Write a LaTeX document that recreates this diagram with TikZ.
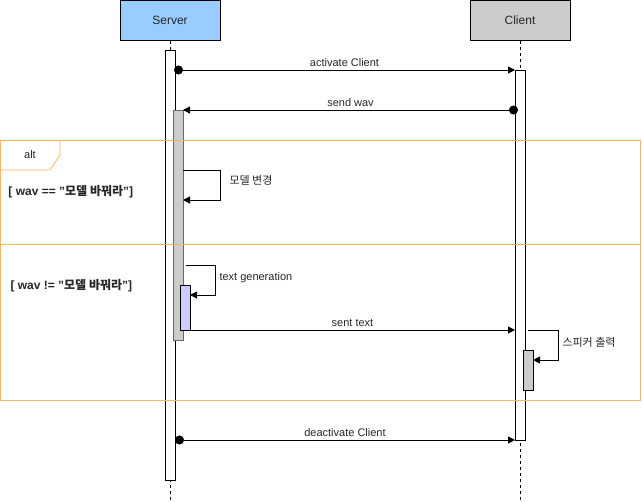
\documentclass[tikz,border=0pt]{standalone}
\usepackage{fontspec}
\setmainfont{Liberation Sans}
\newfontfamily\kr{Noto Sans CJK KR}
\usetikzlibrary{arrows.meta}
\definecolor{srvblue}{HTML}{99CCFF}
\definecolor{cligray}{HTML}{CCCCCC}
\definecolor{actblue}{HTML}{CCCCFF}
\definecolor{frameor}{HTML}{FFB366}
\newcommand{\sq}{\char34\relax}
\begin{document}
\begin{tikzpicture}[x=1pt,y=-1pt,line width=1pt,
  every node/.style={font=\fontsize{11}{13}\selectfont, inner sep=0pt, text=black!85},
  actor/.style={draw, minimum width=100pt, minimum height=40pt, font=\fontsize{12}{14}\selectfont},
  actbox/.style={draw, fill=white},
  life/.style={dashed, dash pattern=on 3pt off 3pt, line width=0.8pt},
  msg/.style={-{Triangle[length=7pt,width=7pt]}},
  dotmsg/.style={{Circle[length=9pt]}-{Triangle[length=7pt,width=7pt]}},
  lbl/.style={above=3pt, font=\fontsize{11}{13}\selectfont},
  slbl/.style={anchor=west, font=\fontsize{11}{13}\selectfont},
  guard/.style={anchor=west, font=\fontsize{12}{14}\selectfont\bfseries}]
\useasboundingbox (0,0) rectangle (642,501);
% actors
\node[actor, fill=srvblue] (server) at (170,20) {Server};
\node[actor, fill=cligray] (client) at (520,20) {Client};
\coordinate (sEnd) at (170,501);
\coordinate (cEnd) at (520,501);
\draw[life] (server.south) -- (sEnd);
\draw[life] (client.south) -- (cEnd);
% activations
\node[actbox, minimum width=10pt, minimum height=430pt] (sAct) at (170,265) {};
\node[actbox, minimum width=10pt, minimum height=370pt] (cAct) at (520,255) {};
\node[draw=black!60, fill=cligray, minimum width=10pt, minimum height=230pt] (sAct2) at (178,225) {};
\node[draw, fill=actblue, minimum width=10pt, minimum height=45pt] (sAct3) at (185,307.5) {};
\node[draw, fill=cligray, minimum width=10pt, minimum height=40pt] (cAct2) at (528,370) {};
% alt frame
\draw[frameor, line width=0.8pt] (0,140) rectangle (640,400);
\draw[frameor, line width=0.8pt] (0,244) -- (640,244);
\draw[frameor, line width=0.8pt] (60,140) -- (60,155) -- (50,170) -- (0,170);
\node (alt) at (30,155) {alt};
\node[guard] (g1) at (8,192) {[ wav == \sq{\kr\bfseries 모델 바꿔라}\sq]};
\node[guard] (g2) at (10,286) {[ wav != \sq{\kr\bfseries 모델 바꿔라}\sq]};
% messages
\coordinate (m1s) at (174,70); \coordinate (m1e) at (515,70);
\draw[dotmsg] (m1s) -- node[lbl] (l1) {activate Client} (m1e);
\coordinate (m2s) at (518,110); \coordinate (m2e) at (183,110);
\draw[dotmsg] (m2s) -- node[lbl] (l2) {send wav} (m2e);
% self: model change
\coordinate (s1a) at (183,170); \coordinate (s1b) at (220,170);
\coordinate (s1c) at (220,200); \coordinate (s1d) at (183,200);
\draw[msg] (s1a) -- (s1b) -- (s1c) -- (s1d);
\node[slbl] (l3) at (229,180) {\kr 모델 변경};
% self: text generation
\coordinate (s2a) at (186,265); \coordinate (s2b) at (215,265);
\coordinate (s2c) at (215,295); \coordinate (s2d) at (190,295);
\draw[msg] (s2a) -- (s2b) -- (s2c) -- (s2d);
\node[slbl] (l4) at (219,278) {text generation};
% sent text
\coordinate (m3s) at (190,330); \coordinate (m3e) at (515,330);
\draw[msg] (m3s) -- node[lbl] (l5) {sent text} (m3e);
% self: speaker output
\coordinate (s3a) at (528,330); \coordinate (s3b) at (558,330);
\coordinate (s3c) at (558,360); \coordinate (s3d) at (533,360);
\draw[msg] (s3a) -- (s3b) -- (s3c) -- (s3d);
\node[slbl] (l6) at (562,342) {\kr 스피커 출력};
% deactivate
\coordinate (m4s) at (175,440); \coordinate (m4e) at (515,440);
\draw[dotmsg] (m4s) -- node[lbl] (l7) {deactivate Client} (m4e);
\end{tikzpicture}
\end{document}
